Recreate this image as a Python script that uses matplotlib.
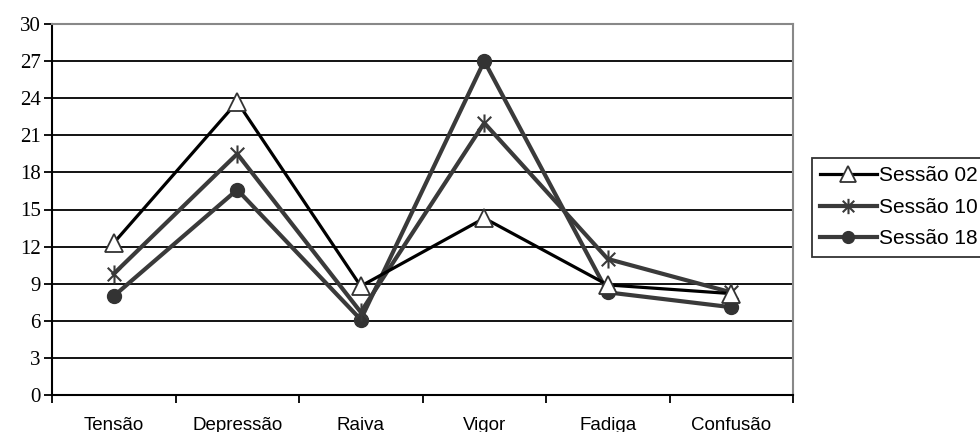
import matplotlib
matplotlib.use("Agg")
import matplotlib.pyplot as plt
from matplotlib.path import Path
import numpy as np

categories = ["Tensão", "Depressão", "Raiva", "Vigor", "Fadiga", "Confusão"]
sessao02 = [12.3, 23.7, 8.8, 14.3, 8.9, 8.2]
sessao10 = [9.8, 19.5, 6.7, 22.0, 11.0, 8.3]
sessao18 = [8.0, 16.6, 6.1, 27.0, 8.3, 7.1]
yticks = list(range(0, 31, 3))

star = Path([(0, -1), (0, 1), (-0.75, -0.75), (0.75, 0.75), (-0.75, 0.75), (0.75, -0.75)],
            [Path.MOVETO, Path.LINETO, Path.MOVETO, Path.LINETO, Path.MOVETO, Path.LINETO])

fig = plt.figure(figsize=(9.8, 4.32), dpi=100)
ax = fig.add_axes([52/980, 1-395/432, (793-52)/980, (395-24)/432])

x = np.arange(len(categories))
ax.plot(x, sessao02, color="black", lw=2.3, marker="^", ms=13, mfc="white",
        mec="#333333", mew=1.3, label="Sessão 02", zorder=5)
ax.plot(x, sessao10, color="#3a3a3a", lw=3.0, marker=star, ms=13, mfc="none",
        mec="#3a3a3a", mew=1.5, label="Sessão 10", zorder=4)
ax.plot(x, sessao18, color="#3a3a3a", lw=3.0, marker="o", ms=10, mfc="#333333",
        mec="#333333", label="Sessão 18", zorder=3)

ax.set_xlim(-0.5, len(categories) - 0.5)
ax.set_ylim(0, 30)
ax.set_yticks(yticks)
ax.set_yticklabels([str(v) for v in yticks], fontfamily="Liberation Serif", fontsize=15)
ax.set_xticks(np.arange(-0.5, len(categories), 1.0))
ax.set_xticklabels([])
ax.set_xticks(x, minor=True)
ax.set_xticklabels(categories, minor=True, fontfamily="Liberation Sans", fontsize=13.5)
ax.tick_params(axis="x", which="major", direction="out", length=6, width=1.3, color="black")
ax.tick_params(axis="x", which="minor", length=0, pad=15.5)
ax.tick_params(axis="y", direction="out", length=6, width=1.3, color="black", pad=2)

for v in yticks[1:]:
    ax.axhline(v, color="black", lw=1.3, zorder=1)

for s in ["left", "bottom"]:
    ax.spines[s].set_color("black")
    ax.spines[s].set_linewidth(1.5)
for s in ["top", "right"]:
    ax.spines[s].set_color("#888888")
    ax.spines[s].set_linewidth(1.5)

leg = fig.legend(loc="upper left", bbox_to_anchor=(812/980, 1-158/432),
                 prop={"family": "Liberation Sans", "size": 15}, frameon=True,
                 fancybox=False, edgecolor="black", handlelength=2.7,
                 handletextpad=0.1, borderpad=0.4, labelspacing=0.6,
                 borderaxespad=0, markerscale=0.85)
leg.get_frame().set_linewidth(1.3)

fig.savefig("out.png", dpi=100, facecolor="white")
